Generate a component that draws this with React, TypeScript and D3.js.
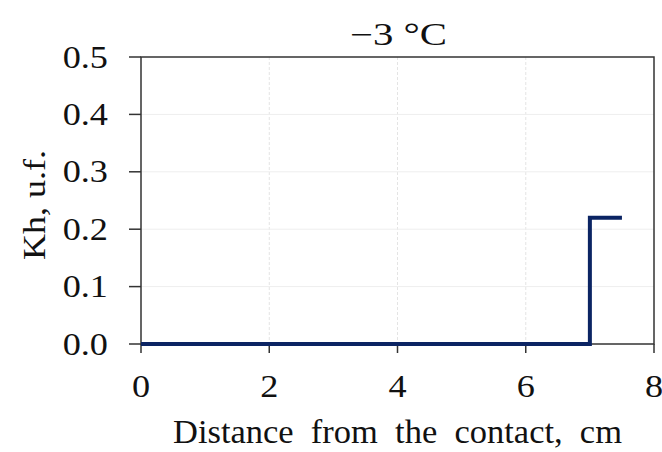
import React from "react";
import * as d3 from "d3";

const distances = [0, 7, 7, 7.5];
const khValues = [0, 0, 0.22, 0.22];
const xTicks = [0, 2, 4, 6, 8];
const yTicks = [0, 0.1, 0.2, 0.3, 0.4, 0.5];
const title = "\u22123 \u00B0C";
const xLabel = "Distance  from  the  contact,  cm";
const yLabel = "Kh, u.f.";

const SX = 1.17;

function T({ x, y, anchor = "middle", size = 31, children }: any) {
  return (
    <text transform={`translate(${x},${y}) scale(${SX},1)`} textAnchor={anchor} fontSize={size} fill="#111">
      {children}
    </text>
  );
}

export default function App() {
  const W = 662, H = 452;
  const left = 141, right = 654, top = 57, bottom = 344;
  const x = d3.scaleLinear().domain([0, 8]).range([left, right]);
  const y = d3.scaleLinear().domain([0, 0.5]).range([bottom, top]);
  const pts = distances.map((d, i) => [d, khValues[i]] as [number, number]);
  const line = d3.line<[number, number]>().x(d => x(d[0])).y(d => y(d[1]));
  const font = "'Liberation Serif', 'Times New Roman', serif";
  return (
    <svg width={W} height={H} style={{ position: "absolute", left: 0, top: 0, background: "#fff" }} fontFamily={font}>
      {xTicks.slice(1, -1).map(t => (
        <line key={"gx" + t} x1={x(t)} x2={x(t)} y1={top} y2={bottom} stroke="#e4e4e4" strokeWidth={1} strokeDasharray="3,2" />
      ))}
      {yTicks.slice(1, -1).map(t => (
        <line key={"gy" + t} x1={left} x2={right} y1={y(t)} y2={y(t)} stroke="#eeeeee" strokeWidth={1} />
      ))}
      <rect x={left} y={top} width={right - left} height={bottom - top} fill="none" stroke="#333" strokeWidth={1.5} />
      {xTicks.map(t => (
        <g key={"xt" + t}>
          <line x1={x(t)} x2={x(t)} y1={bottom} y2={bottom + 9} stroke="#333" strokeWidth={1.5} />
          <T x={x(t)} y={397}>{t}</T>
        </g>
      ))}
      {yTicks.map(t => (
        <g key={"yt" + t}>
          <line x1={left - 12} x2={left} y1={y(t)} y2={y(t)} stroke="#333" strokeWidth={1.5} />
          <T x={108} y={y(t) + 10.5} anchor="end">{t.toFixed(1)}</T>
        </g>
      ))}
      <path d={line(pts) || ""} fill="none" stroke="#0b2463" strokeWidth={4} strokeLinejoin="miter" />
      <text x={398.5} y={45} textAnchor="middle" fontSize={31} fill="#111" textLength={97} lengthAdjust="spacingAndGlyphs">{title}</text>
      <text x={397.5} y={443} textAnchor="middle" fontSize={33} fill="#111" textLength={449} lengthAdjust="spacingAndGlyphs" style={{ whiteSpace: "pre" }}>{xLabel}</text>
      <text transform={`translate(45,205) rotate(-90)`} textAnchor="middle" fontSize={32} fill="#111" textLength={110} lengthAdjust="spacingAndGlyphs">{yLabel}</text>
    </svg>
  );
}
